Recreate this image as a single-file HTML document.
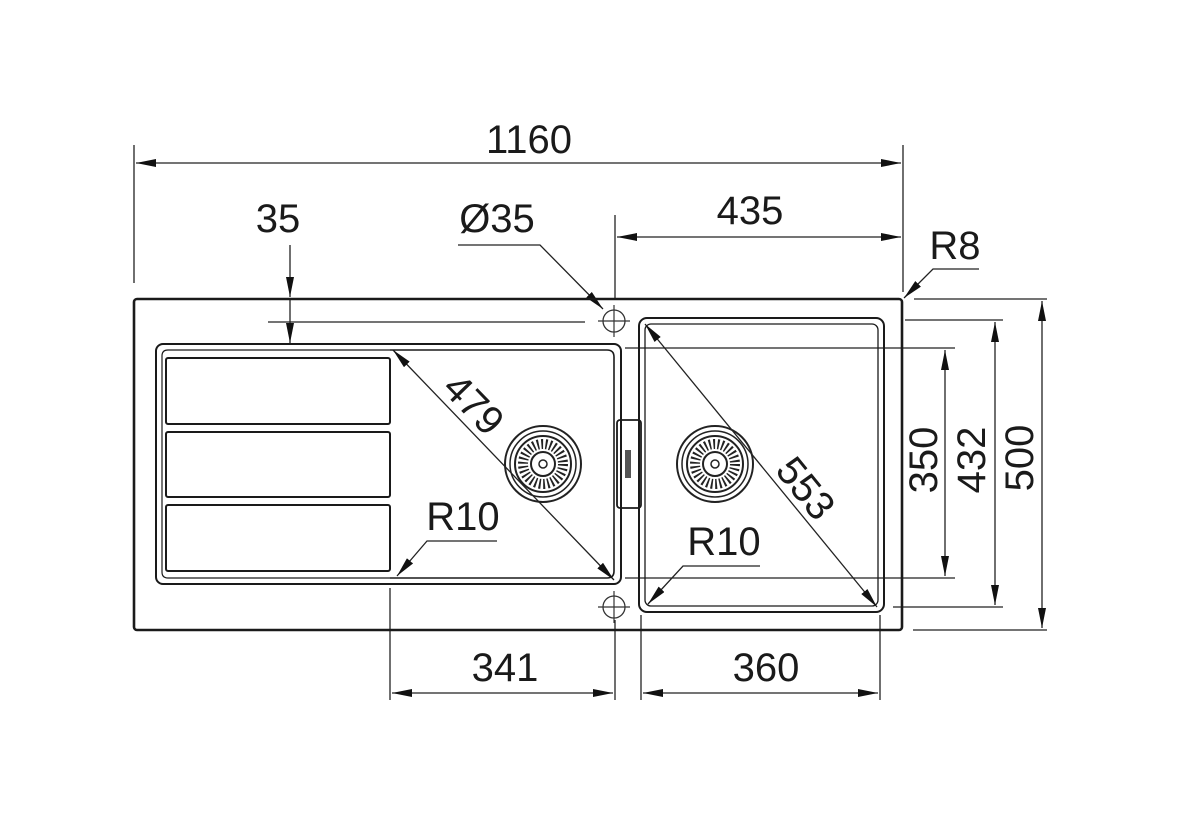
<!DOCTYPE html>
<html><head><meta charset="utf-8"><style>
html,body{margin:0;padding:0;background:#fff;}
svg{display:block}
text{font-family:"Liberation Sans",sans-serif;font-size:40px;fill:#1a1a1a}
</style></head><body>
<svg width="1200" height="821" viewBox="0 0 1200 821" xmlns="http://www.w3.org/2000/svg">
<defs>
<marker id="a" viewBox="0 0 20 8" refX="20" refY="4" markerWidth="20" markerHeight="8" markerUnits="userSpaceOnUse" orient="auto-start-reverse"><path d="M0,0 L20,4 L0,8 z" fill="#111"/></marker>
<g id="drain">
<circle r="38" fill="none" stroke="#222" stroke-width="2"/>
<circle r="33" fill="none" stroke="#222" stroke-width="1.5"/>
<circle r="28" fill="none" stroke="#222" stroke-width="2"/>
<circle r="20" fill="none" stroke="#222" stroke-width="10" stroke-dasharray="1.8 2.4"/>
<circle r="12" fill="none" stroke="#222" stroke-width="2"/>
<circle r="4" fill="none" stroke="#222" stroke-width="1.5"/>
</g>
<g id="tap">
<circle r="11" fill="none" stroke="#333" stroke-width="1.3"/>
<line x1="-16" y1="0" x2="16" y2="0" stroke="#333" stroke-width="1.2"/>
<line x1="0" y1="-16" x2="0" y2="16" stroke="#333" stroke-width="1.2"/>
</g>
</defs>
<g stroke="#222" fill="none" stroke-width="1.3">
<line x1="134" y1="145" x2="134" y2="283"/>
<line x1="903" y1="145" x2="903" y2="292"/>
<line x1="615" y1="215" x2="615" y2="300"/>
<line x1="268" y1="322" x2="585" y2="322"/>
<line x1="914" y1="299" x2="1047" y2="299"/>
<line x1="905" y1="320" x2="1003" y2="320"/>
<line x1="625" y1="348" x2="955" y2="348"/>
<line x1="625" y1="578" x2="955" y2="578"/>
<line x1="893" y1="607" x2="1003" y2="607"/>
<line x1="913" y1="630" x2="1047" y2="630"/>
<line x1="390" y1="588" x2="390" y2="700"/>
<line x1="615" y1="620" x2="615" y2="700"/>
<line x1="641" y1="615" x2="641" y2="700"/>
<line x1="880" y1="615" x2="880" y2="700"/>
<line x1="136" y1="163" x2="901" y2="163" marker-start="url(#a)" marker-end="url(#a)"/>
<line x1="617" y1="237" x2="901" y2="237" marker-start="url(#a)" marker-end="url(#a)"/>
<line x1="290" y1="245" x2="290" y2="297" marker-end="url(#a)"/>
<line x1="290" y1="300" x2="290" y2="343" marker-end="url(#a)"/>
<polyline points="458,245 540,245 603,309" marker-end="url(#a)"/>
<polyline points="979,269 933,269 904,298" marker-end="url(#a)"/>
<line x1="945" y1="350" x2="945" y2="576" marker-start="url(#a)" marker-end="url(#a)"/>
<line x1="995" y1="322" x2="995" y2="605" marker-start="url(#a)" marker-end="url(#a)"/>
<line x1="1042" y1="301" x2="1042" y2="628" marker-start="url(#a)" marker-end="url(#a)"/>
<line x1="392" y1="693" x2="613" y2="693" marker-start="url(#a)" marker-end="url(#a)"/>
<line x1="643" y1="693" x2="878" y2="693" marker-start="url(#a)" marker-end="url(#a)"/>
<line x1="393" y1="350" x2="614" y2="580" marker-start="url(#a)" marker-end="url(#a)"/>
<line x1="645" y1="324" x2="877" y2="607" marker-start="url(#a)" marker-end="url(#a)"/>
<polyline points="497,541 427,541 397,576" marker-end="url(#a)"/>
<polyline points="760,566 683,566 648,604" marker-end="url(#a)"/>
</g>
<g stroke="#1a1a1a" fill="none">
<rect x="134" y="299" width="768" height="331" rx="3" stroke-width="2.6"/>
<rect x="156" y="344" width="465" height="240" rx="7" stroke-width="2"/>
<path d="M390,350 L607,350 Q614,350 614,357 L614,571 Q614,578 607,578 L390,578" stroke-width="1.6"/>
<path d="M390,350 L168,350 Q162,350 162,356 L162,572 Q162,578 168,578 L390,578" stroke-width="1.2"/>
<rect x="166" y="358" width="224" height="66" rx="2" stroke-width="2"/>
<rect x="166" y="432" width="224" height="65" rx="2" stroke-width="2"/>
<rect x="166" y="505" width="224" height="66" rx="2" stroke-width="2"/>
<rect x="617" y="420" width="24" height="88" rx="3" stroke-width="1.8"/>
<rect x="625" y="450" width="6" height="28" fill="#555" stroke="none"/>
<rect x="639" y="318" width="245" height="294" rx="8" stroke-width="2"/>
<rect x="645" y="324" width="233" height="282" rx="6" stroke-width="1.3"/>
</g>
<use href="#drain" x="543" y="464"/>
<use href="#drain" x="715" y="464"/>
<use href="#tap" x="614" y="321"/>
<use href="#tap" x="614" y="607"/>
<text x="529" y="153" text-anchor="middle">1160</text>
<text x="750" y="224" text-anchor="middle">435</text>
<text x="278" y="232" text-anchor="middle">35</text>
<text x="497" y="232" text-anchor="middle">Ø35</text>
<text x="955" y="259" text-anchor="middle">R8</text>
<text x="463" y="530" text-anchor="middle">R10</text>
<text x="724" y="555" text-anchor="middle">R10</text>
<text x="505" y="681" text-anchor="middle">341</text>
<text x="766" y="681" text-anchor="middle">360</text>
<text transform="translate(474,404) rotate(46)" text-anchor="middle" dy="14">479</text>
<text transform="translate(806,488) rotate(51)" text-anchor="middle" dy="14">553</text>
<text transform="translate(923,460) rotate(-90)" text-anchor="middle" dy="14">350</text>
<text transform="translate(971,460) rotate(-90)" text-anchor="middle" dy="14">432</text>
<text transform="translate(1019,458) rotate(-90)" text-anchor="middle" dy="14">500</text>
</svg>
</body></html>
